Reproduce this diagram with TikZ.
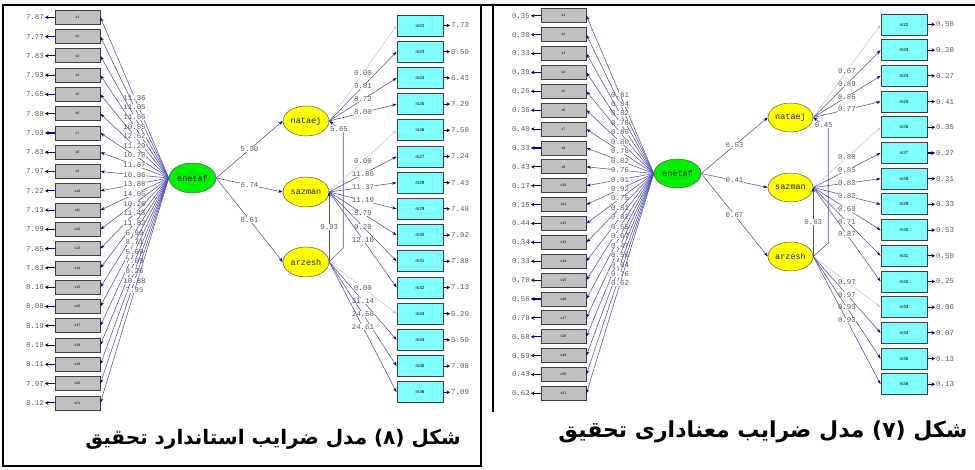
\documentclass[tikz,border=0pt]{standalone}
\usepackage{fontspec}
\setmonofont{Liberation Mono}
\setsansfont{Liberation Sans}
\newfontfamily\arabicfont[Script=Arabic]{DejaVu Sans}
\TeXXeTstate=1
\usetikzlibrary{arrows.meta,shapes.geometric}

\definecolor{sgray}{RGB}{192,192,192}
\definecolor{mcyan}{RGB}{128,255,255}
\definecolor{boxedge}{RGB}{64,64,64}
\definecolor{latgreen}{RGB}{0,238,0}
\definecolor{latyellow}{RGB}{255,255,0}
\definecolor{latedge}{RGB}{90,90,90}
\definecolor{labtext}{RGB}{40,40,40}
\definecolor{linkblue}{RGB}{80,80,175}
\definecolor{tipblue}{RGB}{0,0,128}
\definecolor{numgray}{RGB}{90,90,90}
\definecolor{fixgray}{RGB}{200,200,200}

\begin{document}
\begin{tikzpicture}[x=1pt,y=-1pt]
  \tikzstyle{sbox}=[rectangle,draw=boxedge,fill=sgray,line width=0.8pt,minimum width=45pt,minimum height=14pt,inner sep=0pt,font=\sffamily\fontsize{3.5}{4}\selectfont]
  \tikzstyle{mbox}=[rectangle,draw=boxedge,fill=mcyan,line width=0.8pt,minimum width=46pt,minimum height=21pt,inner sep=0pt,font=\sffamily\fontsize{4.5}{5}\selectfont]
  \tikzstyle{lat}=[ellipse,draw=latedge,line width=0.5pt,minimum width=46pt,minimum height=30pt,inner sep=0pt,text=labtext,font=\ttfamily\fontsize{8.5}{9}\selectfont]
  \tikzstyle{coef}=[fill=white,inner sep=0.3pt,text=numgray,font=\ttfamily\fontsize{7.4}{7.4}\selectfont]
  \tikzstyle{errval}=[inner sep=1pt,text=numgray,font=\ttfamily\fontsize{7.4}{7.4}\selectfont]
  \tikzstyle{load}=[draw=linkblue,line width=0.55pt,-{Stealth[length=4.5pt,width=3pt,color=tipblue]}]
  \tikzstyle{fixline}=[draw=fixgray,line width=0.55pt,-{Stealth[length=4.5pt,width=3pt,color=fixgray]}]
  \tikzstyle{errarrow}=[draw=tipblue,line width=1.1pt,-{Stealth[length=3.5pt,width=3.8pt]}]
  \tikzstyle{caption}=[inner sep=0pt,font=\arabicfont\bfseries\fontsize{20}{24}\selectfont]
  \tikzstyle{panelframe}=[draw=black,line width=2pt]

  \useasboundingbox (0,0) rectangle (975,470);

  % standardized model (left)
  \begin{scope}
    \node[lat,fill=latgreen,minimum width=47pt](enetafA) at (192.5,178){enetaf};
    \node[lat,fill=latyellow](nataejA) at (306,121){nataej};
    \node[lat,fill=latyellow](sazmanA) at (306,192){sazman};
    \node[lat,fill=latyellow](arzeshA) at (306,262){arzesh};

    \foreach \e/\c [count=\i] in {7.87/11.36,7.77/11.05,7.83/11.66,7.93/10.85,7.65/12.62,7.88/11.29,7.93/10.78,7.83/11.67,7.97/10.36,7.22/13.88,7.13/14.05,7.99/10.26,7.85/11.45,7.83/11.82,8.16/6.99,8.08/8.71,8.19/5.69,8.18/7.09,8.11/8.26,7.97/10.88,8.12/7.95}{
      \node[sbox](sA\i) at (77.5,{17.3+19.28*(\i-1)}){s\i};
      \node[errval,anchor=east](esA\i) at (45,{17.3+19.28*(\i-1)}){\e};
      \draw[errarrow] (sA\i) -- (esA\i);
      \path (enetafA.west) edge[load] node[coef]{\c} (sA\i.east);
    }

    \foreach \e [count=\i from 22] in {7.73,5.59,6.43,7.29,7.50,7.24,7.43,7.48,7.92,7.88,7.13,5.29,5.59,7.08,7.09}{
      \node[mbox](mA\i) at (420,{25.5+26.2*(\i-22)}){m\i};
      \node[errval,anchor=west](emA\i) at (450,{25.5+26.2*(\i-22)}){\e};
      \draw[errarrow] (mA\i) -- (emA\i);
    }

    \path (enetafA.east) edge[load] node[coef]{5.90} (nataejA.west)
          (enetafA.east) edge[load] node[coef]{6.74} (sazmanA.west)
          (enetafA.east) edge[load] node[coef]{8.61} (arzeshA.west)
          (arzeshA.east) edge[load] node[coef]{9.93} (sazmanA.east);
    \draw[load] (arzeshA.east) -- ++(14,-14) -- ++(0,-116) -- node[coef,pos=0.3]{5.65} (nataejA.east);

    \path (nataejA.east) edge[fixline] node[coef]{0.00} (mA22.west);
    \foreach \c [count=\i from 23] in {9.01,8.72,8.00}
      \path (nataejA.east) edge[load] node[coef]{\c} (mA\i.west);
    \path (sazmanA.east) edge[fixline] node[coef]{0.00} (mA26.west);
    \foreach \c [count=\i from 27] in {11.86,11.37,11.19,8.79,9.20,12.10}
      \path (sazmanA.east) edge[load] node[coef]{\c} (mA\i.west);
    \path (arzeshA.east) edge[fixline] node[coef]{0.00} (mA33.west);
    \foreach \c [count=\i from 34] in {31.14,24.58,24.61}
      \path (arzeshA.east) edge[load] node[coef]{\c} (mA\i.west);

    \node[caption](capA) at (273,439){\beginR شکل (۸) مدل ضرایب استاندارد تحقیق\endR};
    \draw[panelframe] (3,5) rectangle (481,466);
  \end{scope}

  % significance model (right)
  \begin{scope}
    \node[lat,fill=latgreen,minimum width=47pt,minimum height=29pt](enetafB) at (677.5,173.5){enetaf};
    \node[lat,fill=latyellow,minimum width=45pt,minimum height=29pt](nataejB) at (790.5,117.5){nataej};
    \node[lat,fill=latyellow,minimum width=45pt,minimum height=29pt](sazmanB) at (790.5,187.5){sazman};
    \node[lat,fill=latyellow,minimum width=45pt,minimum height=29pt](arzeshB) at (790.5,256.5){arzesh};

    \foreach \e/\c [count=\i] in {0.35/0.81,0.30/0.84,0.33/0.82,0.39/0.78,0.26/0.86,0.36/0.80,0.40/0.78,0.33/0.82,0.43/0.76,0.17/0.91,0.15/0.92,0.44/0.75,0.34/0.81,0.33/0.82,0.70/0.55,0.56/0.67,0.78/0.47,0.68/0.56,0.59/0.64,0.43/0.76,0.62/0.62}{
      \node[sbox](sB\i) at (563.5,{15.8+18.88*(\i-1)}){s\i};
      \node[errval,anchor=east](esB\i) at (531,{15.8+18.88*(\i-1)}){\e};
      \draw[errarrow] (sB\i) -- (esB\i);
      \path (enetafB.west) edge[load] node[coef]{\c} (sB\i.east);
    }

    \foreach \e [count=\i from 22] in {0.56,0.20,0.27,0.41,0.35,0.27,0.31,0.33,0.53,0.50,0.25,0.06,0.07,0.13,0.13}{
      \node[mbox](mB\i) at (904,{24.5+25.7*(\i-22)}){m\i};
      \node[errval,anchor=west](emB\i) at (935,{24.5+25.7*(\i-22)}){\e};
      \draw[errarrow] (mB\i) -- (emB\i);
    }

    \path (enetafB.east) edge[load] node[coef]{0.53} (nataejB.west)
          (enetafB.east) edge[load] node[coef]{0.41} (sazmanB.west)
          (enetafB.east) edge[load] node[coef]{0.67} (arzeshB.west)
          (arzeshB.east) edge[load] node[coef]{0.63} (sazmanB.east);
    \draw[load] (arzeshB.east) -- ++(15,-13.5) -- ++(0,-115) -- node[coef,pos=0.3]{0.45} (nataejB.east);

    \path (nataejB.east) edge[fixline] node[coef]{0.67} (mB22.west);
    \foreach \c [count=\i from 23] in {0.89,0.86,0.77}
      \path (nataejB.east) edge[load] node[coef]{\c} (mB\i.west);
    \path (sazmanB.east) edge[fixline] node[coef]{0.80} (mB26.west);
    \foreach \c [count=\i from 27] in {0.85,0.83,0.82,0.69,0.71,0.87}
      \path (sazmanB.east) edge[load] node[coef]{\c} (mB\i.west);
    \path (arzeshB.east) edge[fixline] node[coef]{0.97} (mB33.west);
    \foreach \c [count=\i from 34] in {0.97,0.93,0.93}
      \path (arzeshB.east) edge[load] node[coef]{\c} (mB\i.west);

    \node[caption,font=\arabicfont\bfseries\fontsize{22}{26}\selectfont](capB) at (763,432){\beginR شکل (۷) مدل ضرایب معناداری تحقیق\endR};
    \draw[panelframe] (493,412) -- (493,5);
    \draw[panelframe] (481,5) -- (975,5);
  \end{scope}
\end{tikzpicture}
\end{document}
